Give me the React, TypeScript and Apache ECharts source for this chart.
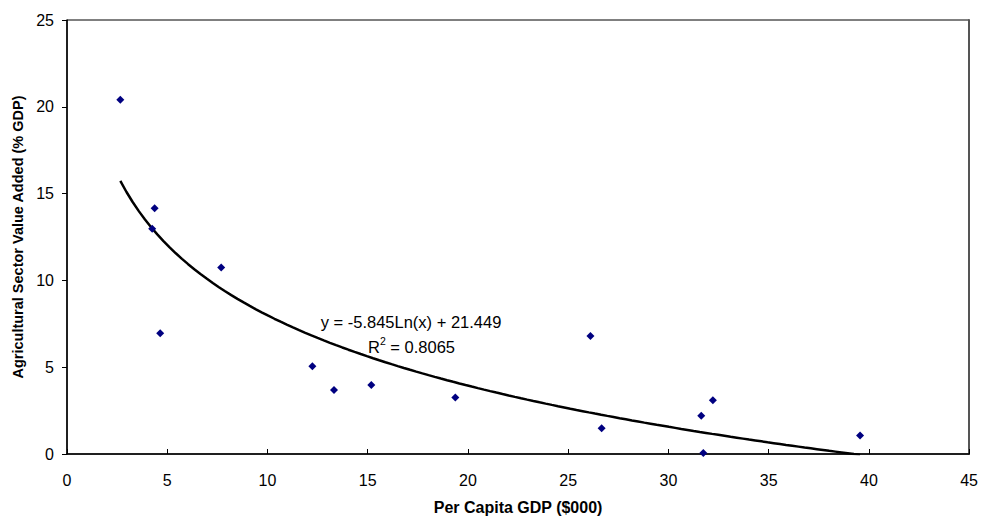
import React, { useEffect, useRef } from "react";
import * as echarts from "echarts";

// Per capita GDP ($000) and agricultural value added (% GDP)
const gdpPerCapita = [2.66, 4.37, 4.25, 4.65, 7.69, 12.24, 13.32, 15.18, 19.37, 26.11, 26.67, 31.64, 32.22, 31.74, 39.56];
const agriShare = [20.41, 14.15, 12.97, 6.95, 10.74, 5.06, 3.69, 3.98, 3.26, 6.8, 1.48, 2.2, 3.09, 0.06, 1.06];

// Logarithmic trendline shown on the chart: y = a*Ln(x) + b
const trendA = -5.845;
const trendB = 21.449;
const trendR2 = 0.8065;

const xTicks = [0, 5, 10, 15, 20, 25, 30, 35, 40, 45];
const yTicks = [0, 5, 10, 15, 20, 25];

const xTitle = "Per Capita GDP ($000)";
const yTitle = "Agricultural Sector Value Added (% GDP)";

export default function App() {
  const ref = useRef<HTMLDivElement>(null);

  useEffect(() => {
    if (!ref.current) return;
    const chart = echarts.init(ref.current, null, { renderer: "svg" });

    const points = gdpPerCapita.map((x, i) => [x, agriShare[i]]);
    const xMin = Math.min(...gdpPerCapita);
    const xMax = Math.max(...gdpPerCapita);
    const steps = 120;
    const trend: number[][] = [];
    for (let i = 0; i <= steps; i++) {
      const x = xMin + ((xMax - xMin) * i) / steps;
      trend.push([x, trendA * Math.log(x) + trendB]);
    }

    const font = "Arial, 'Liberation Sans', sans-serif";

    chart.setOption({
      animation: false,
      backgroundColor: "#ffffff",
      textStyle: { fontFamily: font },
      grid: {
        left: 67,
        right: 10,
        top: 20,
        bottom: 60,
        show: true,
        borderColor: "#000",
        borderWidth: 1,
        backgroundColor: "transparent",
      },
      xAxis: {
        type: "value",
        min: xTicks[0],
        max: xTicks[xTicks.length - 1],
        interval: 5,
        name: xTitle,
        nameLocation: "middle",
        nameGap: 45,
        nameTextStyle: { fontFamily: font, fontWeight: "bold", fontSize: 16, color: "#000" },
        axisLine: { show: true, lineStyle: { color: "#000", width: 1.5 } },
        axisTick: { show: true, inside: true, length: 5, lineStyle: { color: "#000", width: 1 } },
        axisLabel: { margin: 18, fontSize: 16, color: "#000", fontFamily: font },
        splitLine: { show: false },
      },
      yAxis: [
        {
          type: "value",
          min: yTicks[0],
          max: yTicks[yTicks.length - 1],
          interval: 5,
          name: yTitle,
          nameLocation: "middle",
          nameGap: 38,
          nameTextStyle: { fontFamily: font, fontWeight: "bold", fontSize: 14.5, color: "#000" },
          axisLine: { show: true, lineStyle: { color: "#000", width: 1.5 } },
          axisTick: { show: true, inside: false, length: 5, lineStyle: { color: "#000", width: 1 } },
          axisLabel: { margin: 13, fontSize: 16, color: "#000", fontFamily: font },
          splitLine: { show: false },
        },
        {
          type: "value",
          position: "right",
          min: yTicks[0],
          max: yTicks[yTicks.length - 1],
          interval: 5,
          axisLine: { show: true, lineStyle: { color: "#555", width: 2 } },
          axisTick: { show: false },
          axisLabel: { show: false },
          splitLine: { show: false },
        },
      ],
      series: [
        {
          type: "line",
          data: trend,
          showSymbol: false,
          symbol: "none",
          smooth: false,
          lineStyle: { color: "#000", width: 2.5 },
          z: 2,
        },
        {
          type: "scatter",
          data: points,
          symbol: "diamond",
          symbolSize: 8,
          itemStyle: { color: "#000080", opacity: 1 },
          z: 3,
        },
      ],
      graphic: [
        {
          type: "text",
          x: 411,
          y: 322,
          style: {
            text: `y = ${trendA.toFixed(3)}Ln(x) + ${trendB.toFixed(3)}`,
            fill: "#000",
            font: `16.5px ${font}`,
            align: "center",
            verticalAlign: "middle",
          },
        },
        {
          type: "text",
          x: 411.5,
          y: 345,
          style: {
            text: `{n|R}{s|2}{n| = ${trendR2.toFixed(4)}}`,
            fill: "#000",
            align: "center",
            verticalAlign: "middle",
            rich: {
              n: { fontSize: 16.5, fontFamily: font, color: "#000", verticalAlign: "bottom", lineHeight: 20 },
              s: { fontSize: 10.5, fontFamily: font, color: "#000", verticalAlign: "top", lineHeight: 20 },
            },
          },
        },
      ],
    });

    return () => chart.dispose();
  }, []);

  return (
    <div
      ref={ref}
      style={{ position: "absolute", left: 0, top: 0, width: 981, height: 520 }}
    />
  );
}
